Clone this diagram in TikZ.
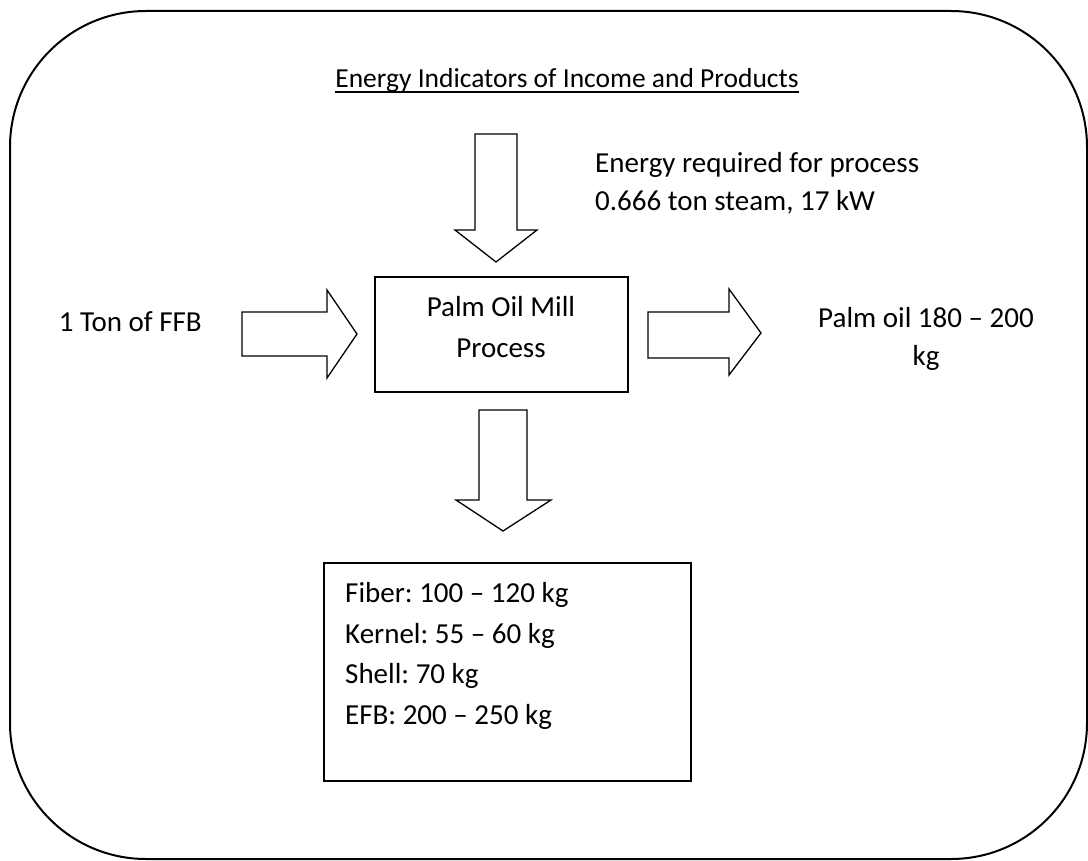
\documentclass[tikz,border=0pt]{standalone}
\usepackage{fontspec}
\setmainfont{Carlito}
\frenchspacing
\begin{document}
\begin{tikzpicture}[x=1pt,y=-1pt,
  txt/.style={inner sep=0pt,font=\fontsize{29}{38}\selectfont},
  ttl/.style={inner sep=0pt,font=\fontsize{27.5}{38}\selectfont},
  blockarrow/.style={draw=black,line width=1.3pt,fill=white,line join=miter},
  boxstyle/.style={draw=black,line width=1.6pt,inner sep=0pt}]
\useasboundingbox (0,0) rectangle (1088,861);
% outer frame
\draw[line width=2pt,rounded corners=136pt] (10,11) rectangle (1087,859);
% title
\node[ttl,anchor=base] (title) at (567,88) {Energy Indicators of Income and Products};
\draw[line width=1.3pt] ([yshift=-4pt]title.base west) -- ([yshift=-4pt]title.base east);
% process box
\node[boxstyle,minimum width=253pt,minimum height=115pt] (proc) at (501.5,334.5) {};
\node[txt,anchor=base] (p1) at (501,317) {Palm Oil Mill};
\node[txt,anchor=base] (p2) at (501,358) {Process};
% top arrow
\draw[blockarrow] (475,134) -- (517,134) -- (517,230) -- (537,230) -- (496,262) -- (455,230) -- (475,230) -- cycle;
% left arrow
\draw[blockarrow] (242,312) -- (327,312) -- (327,290) -- (357,334) -- (327,378) -- (327,356) -- (242,356) -- cycle;
% right arrow
\draw[blockarrow] (648,312) -- (729,312) -- (729,289) -- (761,333) -- (729,375) -- (729,358) -- (648,358) -- cycle;
% bottom arrow
\draw[blockarrow] (479,410) -- (527,410) -- (527,500) -- (551,500) -- (503,531) -- (456,500) -- (479,500) -- cycle;
% bottom box
\node[boxstyle,minimum width=367pt,minimum height=218pt] (prod) at (507.5,672) {};
\node[txt,anchor=base west] (f1) at (345,602) {Fiber: 100 – 120 kg};
\node[txt,anchor=base west] (f2) at (345,643) {Kernel: 55 – 60 kg};
\node[txt,anchor=base west] (f3) at (345,683) {Shell: 70 kg};
\node[txt,anchor=base west] (f4) at (345,724) {EFB: 200 – 250 kg};
% side texts
\node[txt,anchor=base east] (ffb) at (202,332) {1 Ton of FFB};
\node[txt,anchor=base west] (e1) at (595,173) {Energy required for process};
\node[txt,anchor=base west] (e2) at (595,211) {0.666 ton steam, 17 kW};
\node[txt,anchor=base] (o1) at (926,327) {Palm oil 180 – 200};
\node[txt,anchor=base] (o2) at (926,366) {kg};
\end{tikzpicture}
\end{document}
